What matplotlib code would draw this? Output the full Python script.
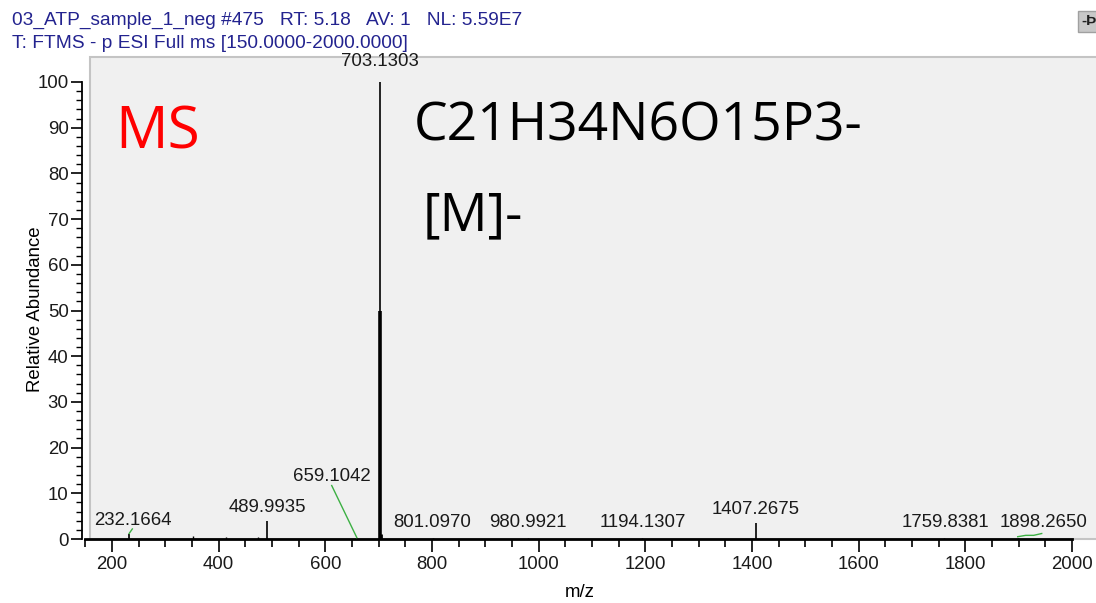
import numpy as np
import matplotlib
matplotlib.use("Agg")
import matplotlib.pyplot as plt
from matplotlib.patches import Rectangle

# centroid peaks (m/z, relative abundance)
peak_mz = [232.1664, 352.0, 413.0, 473.0, 489.9935, 659.1042, 702.4, 703.1303,
           705.0, 801.0970, 980.9921, 1194.1307, 1407.2675, 1759.8381, 1898.2650]
peak_int = [1.2, 0.6, 0.5, 0.5, 3.9, 0.3, 50.0, 100.0,
            1.0, 0.2, 0.2, 0.2, 3.5, 0.2, 0.2]
peak_lw = [1.2, 1.0, 1.0, 1.0, 1.2, 1.0, 2.6, 1.2,
           2.0, 1.0, 1.0, 1.0, 1.2, 1.0, 1.0]

# labelled peaks and where their labels sit (m/z, abundance)
label_mz = [232.1664, 489.9935, 659.1042, 703.1303, 801.0970, 980.9921,
            1194.1307, 1407.2675, 1759.8381, 1898.2650]
label_x = [239, 492, 612, 703, 800, 980, 1196, 1407, 1762, 1946]
label_y = [2.2, 5.0, 11.9, 102.6, 1.7, 1.7, 1.7, 4.7, 1.7, 1.7]
# labels pushed off their peak get a green leader line
leader = [True, False, True, False, False, False, False, False, False, True]

header1 = "03_ATP_sample_1_neg #475   RT: 5.18   AV: 1   NL: 5.59E7"
header2 = "T: FTMS - p ESI Full ms [150.0000-2000.0000]"

W, H = 1096, 603
fig = plt.figure(figsize=(W / 100, H / 100), dpi=100)
fig.patch.set_facecolor("white")

# axes frame: x=150 sits at px 85, y=0 at px 539, 100 at px 82
px_x0, px_y0, px_top = 85.3, 539.0, 57.0
xscale = 960 / 1800.0
yscale = (539 - 82) / 100.0
ax_w = W * 1.02 - px_x0
ax_h = px_y0 - px_top
ax = fig.add_axes([px_x0 / W, (H - px_y0) / H, ax_w / W, ax_h / H])
ax.set_xlim(150, 150 + ax_w / xscale)
ax.set_ylim(0, ax_h / yscale)
ax.patch.set_visible(False)

axfont = "Liberation Sans"
fs = 13.4

# gray plot panel
ax.add_patch(Rectangle(((90 - px_x0) / ax_w, 0), 1.2, 1.0,
                       transform=ax.transAxes, facecolor="#f0f0f0",
                       edgecolor="#c4c4c4", linewidth=1.5, zorder=0,
                       clip_on=False))

for s in ["top", "right"]:
    ax.spines[s].set_visible(False)
ax.spines["left"].set_bounds(0, 100)
ax.spines["bottom"].set_bounds(150, 2000)
ax.spines["left"].set_linewidth(1.3)
ax.spines["bottom"].set_linewidth(2.0)
ax.spines["left"].set_position(("outward", 2.5))

ax.set_xticks(np.arange(200, 2001, 200))
ax.set_yticks(np.arange(0, 101, 10))
ax.set_xticks([t for t in np.arange(150, 2001, 50) if t % 200 != 0], minor=True)
ax.set_yticks([t for t in np.arange(0, 101, 2) if t % 10 != 0], minor=True)
ax.tick_params(axis="x", which="major", length=9.5, width=1.2, pad=3,
               labelsize=fs)
ax.tick_params(axis="x", which="minor", length=6, width=1.2)
ax.tick_params(axis="y", which="major", length=8, width=1.2, pad=1.5,
               labelsize=fs)
ax.tick_params(axis="y", which="minor", length=4.5, width=1.0)
for lab in ax.get_xticklabels() + ax.get_yticklabels():
    lab.set_fontfamily(axfont)
    lab.set_color("#1a1a1a")

ax.set_xlabel("m/z", fontfamily=axfont, fontsize=fs)
ax.set_ylabel("Relative Abundance", fontfamily=axfont, fontsize=fs)
ax.xaxis.set_label_coords((580 - px_x0) / ax_w, (px_y0 - 584) / ax_h)
ax.yaxis.set_label_coords((44 - px_x0) / ax_w, (px_y0 - 309) / ax_h)

# stick spectrum
ax.vlines(peak_mz, 0, peak_int, colors="black", linewidths=peak_lw, zorder=3)

for mz, lx, ly, lead in zip(label_mz, label_x, label_y, leader):
    ax.text(lx, ly, f"{mz:.4f}", ha="center", va="bottom", fontsize=fs,
            fontfamily=axfont, color="#1a1a1a", zorder=4)
    if lead:
        h = peak_int[peak_mz.index(mz)]
        if mz < 300:
            ax.plot([mz, mz + 6], [h, h + 1.0], color="#3cb043", lw=1, zorder=4)
        elif mz < 700:
            ax.plot([lx, mz], [ly - 0.2, h], color="#3cb043", lw=1, zorder=4)
        else:
            ax.plot([mz, mz + 15, mz + 30, mz + 45], [h + 0.3, h + 0.6,
                    h + 0.6, h + 1.0], color="#3cb043", lw=1, zorder=4)

# annotations inside the panel
ax.text(0.029, 0.81, "MS", transform=ax.transAxes, color="#ff0000",
        fontsize=42, fontfamily="Open Sans", va="baseline")
ax.text(0.318, 0.826, "C21H34N6O15P3-", transform=ax.transAxes,
        color="black", fontsize=38.5, fontfamily="Open Sans", va="baseline")
ax.text(0.327, 0.64, "[M]-", transform=ax.transAxes,
        color="black", fontsize=38.5, fontfamily="Open Sans", va="baseline")

# scan header
fig.text(12 / W, 1 - 20 / H, header1, color="#23238f", fontsize=13.8,
         fontfamily=axfont, va="center")
fig.text(12 / W, 1 - 44 / H, header2, color="#23238f", fontsize=13.8,
         fontfamily=axfont, va="center")

# little toolbar pin button at top right
fig.patches.append(Rectangle((1078 / W, 1 - 32 / H), 20 / W, 21 / H,
                             transform=fig.transFigure, facecolor="#c8c8c8",
                             edgecolor="#a0a0a0", linewidth=1))
fig.text(1081 / W, 1 - 21 / H, "-Þ", fontsize=11, fontweight="bold",
         fontfamily=axfont, va="center", color="#202020")

fig.savefig("out.png", dpi=100)
